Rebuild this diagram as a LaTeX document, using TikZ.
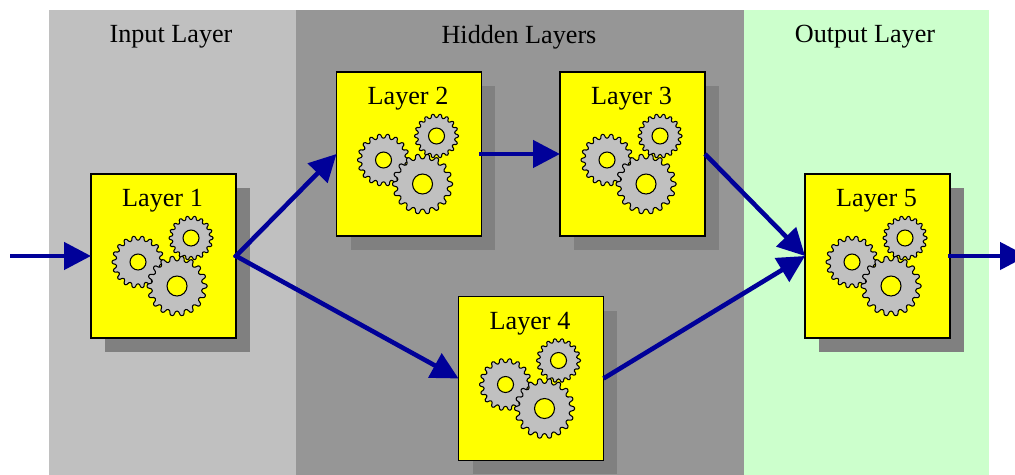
\documentclass[tikz,border=0pt]{standalone}
\usepackage{fontspec}
\setmainfont{Liberation Serif}
\usetikzlibrary{arrows.meta, shadows}
\definecolor{inputgray}{HTML}{C0C0C0}
\definecolor{hiddengray}{HTML}{969696}
\definecolor{outputgreen}{HTML}{CCFFCC}
\definecolor{shadowgray}{HTML}{808080}
\definecolor{flowblue}{HTML}{000099}
\definecolor{boxyellow}{HTML}{FFFF00}
\tikzset{
    layerbox/.style={draw=black, line width=0.9pt, fill=boxyellow, minimum width=2.9cm, minimum height=3.28cm, inner sep=0pt, outer sep=0pt,
        general shadow={shadow xshift=0.28cm, shadow yshift=-0.28cm, fill=shadowgray}},
    layertitle/.style={font=\fontsize{14.9}{16}\selectfont, inner sep=0pt},
    flow/.style={-{Triangle[length=0.54cm, width=0.54cm]}, color=flowblue, line width=2.6pt},
    gearwheel/.style={draw=black, fill=inputgray, line width=0.6pt, rounded corners=0.5pt}
}
% center x, center y, outer radius, hole radius
\newcommand{\gearwheel}[4]{
    \begin{scope}[shift={(#1, #2)}]
        \draw[gearwheel] (-7:#3*0.84)
            \foreach \a in {0, 20, ..., 340}{
                -- (\a-7:#3*0.84) -- (\a-3:#3) -- (\a+3:#3) -- (\a+7:#3*0.84)
            } -- cycle;
        \draw[line width=0.6pt, fill=boxyellow] (0, 0) circle (#4);
    \end{scope}
}
\begin{document}
\begin{tikzpicture}[x=0.02cm, y=-0.02cm]
    \useasboundingbox (0, 0) rectangle (1015, 475);
    \fill[inputgray] (49, 10) rectangle (296, 475);
    \fill[hiddengray] (296, 10) rectangle (744, 475);
    \fill[outputgreen] (744, 10) rectangle (989, 475);
    \node[layertitle] (inputtitle) at (171, 37){Input Layer};
    \node[layertitle] (hiddentitle) at (519, 37){Hidden Layers};
    \node[layertitle] (outputtitle) at (865, 37){Output Layer};
    \foreach \n/\x/\y in {1/163.5/256, 2/409/154, 3/632.5/154, 4/531/378.5, 5/877.5/256}{
        \node[layerbox] (layer\n) at (\x, \y){};
        \node[layertitle] (title\n) at (\x-1, \y-55){Layer \n};
        \begin{scope}[shift={(layer\n.north west)}]
            \gearwheel{47}{88}{26}{8}
            \gearwheel{100}{64}{22}{8}
            \gearwheel{86}{112}{30}{10}
        \end{scope}
    }
    \coordinate (start) at (10, 256);
    \coordinate (end) at (1027, 256);
    \draw[flow] (start) -- (layer1.west);
    \draw[flow, shorten <=-0.04cm] (layer1.east) -- (layer2.west);
    \draw[flow, shorten <=-0.04cm] (layer1.east) -- (layer4.west);
    \draw[flow, shorten <=-0.04cm] (layer2.east) -- (layer3.west);
    \draw[flow] (layer3.east) -- (layer5.west);
    \draw[flow] (layer4.east) -- (layer5.west);
    \draw[flow, shorten <=-0.04cm] (layer5.east) -- (end);
\end{tikzpicture}
\end{document}
